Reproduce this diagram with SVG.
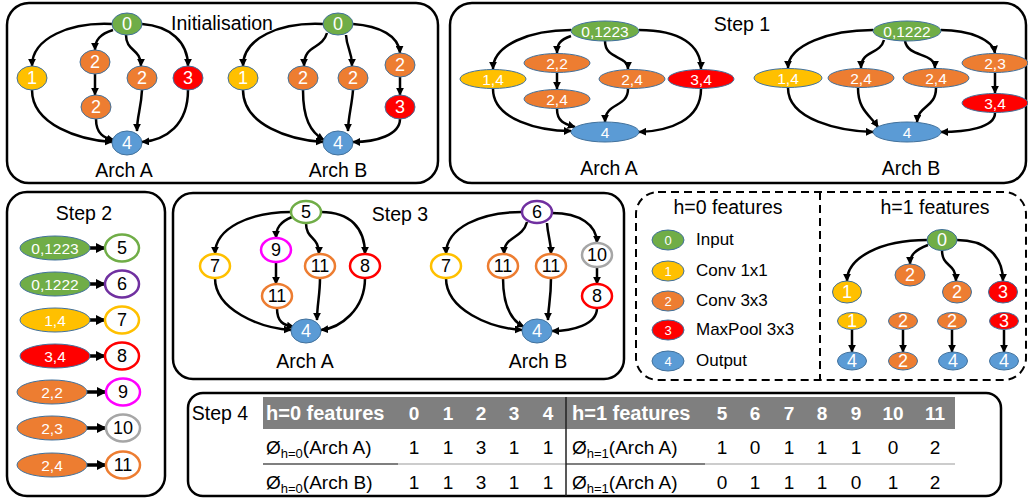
<svg xmlns="http://www.w3.org/2000/svg" width="1028" height="499" viewBox="0 0 1028 499">
<defs>
  <marker id="ah" viewBox="0 0 10 10" refX="9" refY="5" markerWidth="8" markerHeight="8" markerUnits="userSpaceOnUse" orient="auto">
    <path d="M0,0 L10,5 L0,10 z" fill="#000"/>
  </marker>
  <marker id="ahb" viewBox="0 0 10 10" refX="9" refY="5" markerWidth="10" markerHeight="11" markerUnits="userSpaceOnUse" orient="auto">
    <path d="M0,0 L10,5 L0,10 z" fill="#000"/>
  </marker>
  <style>
    .panel{fill:#fff;stroke:#000;stroke-width:2.5}
    .dash{fill:none;stroke:#000;stroke-width:2;stroke-dasharray:8 5}
    .e{fill:none;stroke:#000;stroke-width:2.5;marker-end:url(#ah)}
    .eb{fill:none;stroke:#000;stroke-width:3.5;marker-end:url(#ahb)}
    .g{fill:#70AD47;stroke:#41719C;stroke-width:1}
    .y{fill:#FFC000;stroke:#41719C;stroke-width:1}
    .o{fill:#ED7D31;stroke:#41719C;stroke-width:1}
    .r{fill:#FF0000;stroke:#41719C;stroke-width:1}
    .b{fill:#5B9BD5;stroke:#41719C;stroke-width:1}
    .og{fill:#fff;stroke:#70AD47;stroke-width:2.5}
    .op{fill:#fff;stroke:#7030A0;stroke-width:2.5}
    .oy{fill:#fff;stroke:#FFC000;stroke-width:2.5}
    .or{fill:#fff;stroke:#FF0000;stroke-width:2.5}
    .om{fill:#fff;stroke:#FF00FF;stroke-width:2.5}
    .ox{fill:#fff;stroke:#A6A6A6;stroke-width:2.5}
    .oo{fill:#fff;stroke:#ED7D31;stroke-width:2.5}
    text{font-family:"Liberation Sans",Arial,sans-serif}
    .t{font-size:19.5px;fill:#000;text-anchor:middle}
    .w{font-size:18px;fill:#fff;text-anchor:middle;dominant-baseline:central}
    .ws{font-size:15.5px;fill:#fff;text-anchor:middle;dominant-baseline:central}
    .wl{font-size:13px;fill:#fff;text-anchor:middle;dominant-baseline:central}
    .k{font-size:18px;fill:#000;text-anchor:middle;dominant-baseline:central}
    .lg{font-size:17px;fill:#000}
    .th{font-size:20px;font-weight:bold;fill:#fff}
    .thn{font-size:19px;font-weight:bold;fill:#fff;text-anchor:middle}
    .td{font-size:19px;fill:#000}
    .tdn{font-size:19px;fill:#000;text-anchor:middle}
  </style>
</defs>

<!-- panel frames -->
<g id="frames">
  <rect class="panel" x="7" y="3" width="431" height="180" rx="22"/>
  <rect class="panel" x="450" y="3" width="576" height="180" rx="22"/>
  <rect class="panel" x="7" y="192" width="158" height="304" rx="20"/>
  <rect class="panel" x="173" y="193" width="451" height="186" rx="20"/>
  <rect class="dash" x="636" y="192" width="390" height="188" rx="22"/>
  <line class="dash" x1="820" y1="192" x2="820" y2="380"/>
  <rect class="panel" x="188" y="393" width="813" height="103" rx="15"/>
</g>

<!-- titles -->
<g id="titles">
  <text class="t" x="222" y="30">Initialisation</text>
  <text class="t" x="124" y="177">Arch A</text>
  <text class="t" x="338" y="177">Arch B</text>
  <text class="t" x="742" y="31">Step 1</text>
  <text class="t" x="609" y="175">Arch A</text>
  <text class="t" x="911" y="175">Arch B</text>
  <text class="t" x="84" y="220">Step 2</text>
  <text class="t" x="400" y="221">Step 3</text>
  <text class="t" x="305" y="368">Arch A</text>
  <text class="t" x="538" y="368">Arch B</text>
  <text class="t" x="728" y="214">h=0 features</text>
  <text class="t" x="935" y="214">h=1 features</text>
  <text class="t" x="220" y="420">Step 4</text>
</g>

<!-- connectors -->
<g id="connectors">
  <!-- Initialisation, Arch A -->
  <path class="e" d="M112,24 C70,22 32,38 32,66"/>
  <path class="e" d="M113,30 C100,34 95,40 95,50"/>
  <path class="e" d="M126,35 C126,52 141,48 141,66"/>
  <path class="e" d="M142,24 C170,26 188,42 188,66"/>
  <path class="e" d="M95,74 L95,95"/>
  <path class="e" d="M32,90 C32,125 80,140 112,142"/>
  <path class="e" d="M96,119 C96,134 104,138 114,140"/>
  <path class="e" d="M142,90 C141,110 137,115 137,131"/>
  <path class="e" d="M188,90 C188,125 166,140 142,142"/>
  <!-- Initialisation, Arch B -->
  <path class="e" d="M323,24 C280,22 243,38 243,66"/>
  <path class="e" d="M327,33 C322,50 304,44 304,66"/>
  <path class="e" d="M346,35 C347,50 352,50 352,66"/>
  <path class="e" d="M353,24 C380,26 399,36 400,53"/>
  <path class="e" d="M400,77 L400,95"/>
  <path class="e" d="M243,90 C243,125 290,140 323,142"/>
  <path class="e" d="M303,90 C303,118 310,132 324,140"/>
  <path class="e" d="M353,90 C352,105 348,118 348,131"/>
  <path class="e" d="M400,119 C400,135 376,142 353,142"/>
  <!-- Step 1, Arch A -->
  <path class="e" d="M571,30 C530,30 493,45 493,69"/>
  <path class="e" d="M571,36 C559,40 557,45 557,53"/>
  <path class="e" d="M605,41 C605,60 628,55 628,69"/>
  <path class="e" d="M639,30 C680,30 701,45 701,69"/>
  <path class="e" d="M557,73 L557,89"/>
  <path class="e" d="M493,89 C493,120 540,131 571,131"/>
  <path class="e" d="M557,109 C557,122 565,124 575,127"/>
  <path class="e" d="M628,89 C628,108 605,102 605,122"/>
  <path class="e" d="M701,89 C701,120 670,131 639,132"/>
  <!-- Step 1, Arch B -->
  <path class="e" d="M873,30 C830,30 788,45 788,68"/>
  <path class="e" d="M884,40 C880,55 861,50 861,68"/>
  <path class="e" d="M905,41 C908,58 935,52 935,68"/>
  <path class="e" d="M941,30 C970,30 993,40 995,53"/>
  <path class="e" d="M995,73 L995,93"/>
  <path class="e" d="M788,88 C788,120 840,131 873,132"/>
  <path class="e" d="M858,88 C858,110 870,115 878,127"/>
  <path class="e" d="M936,88 C936,108 918,105 917,122"/>
  <path class="e" d="M995,113 C995,128 965,132 941,132"/>
  <!-- Step 2 relabelling -->
  <path class="eb" d="M90,248 L105,248"/>
  <path class="eb" d="M90,284 L105,284"/>
  <path class="eb" d="M90,320 L105,320"/>
  <path class="eb" d="M90,356 L105,356"/>
  <path class="eb" d="M87,392 L106,392"/>
  <path class="eb" d="M87,428 L106,428"/>
  <path class="eb" d="M87,465 L106,465"/>
  <!-- Step 3, Arch A -->
  <path class="e" d="M291,212 C250,212 215,228 215,254"/>
  <path class="e" d="M292,217 C280,222 276,228 276,238"/>
  <path class="e" d="M306,223 C306,240 319,236 319,254"/>
  <path class="e" d="M321,212 C350,212 365,228 365,254"/>
  <path class="e" d="M276,262 L276,284"/>
  <path class="e" d="M215,278 C215,310 260,328 291,330"/>
  <path class="e" d="M277,308 C277,322 283,325 294,327"/>
  <path class="e" d="M320,278 C320,295 317,305 317,320"/>
  <path class="e" d="M365,278 C365,310 340,328 321,330"/>
  <!-- Step 3, Arch B -->
  <path class="e" d="M522,212 C480,212 446,228 446,254"/>
  <path class="e" d="M527,222 C522,240 504,235 504,254"/>
  <path class="e" d="M547,223 C548,238 551,240 551,254"/>
  <path class="e" d="M552,213 C580,213 597,225 597,243"/>
  <path class="e" d="M597,267 L597,284"/>
  <path class="e" d="M446,278 C446,310 490,328 522,330"/>
  <path class="e" d="M503,278 C503,305 510,320 524,327"/>
  <path class="e" d="M551,278 C551,300 548,308 548,320"/>
  <path class="e" d="M597,308 C597,325 572,331 552,331"/>
  <!-- h=1 feature tree -->
  <path class="e" d="M927,240 C880,240 847,258 847,281"/>
  <path class="e" d="M928,245 C915,250 910,255 910,264"/>
  <path class="e" d="M942,250 C942,268 956,262 956,281"/>
  <path class="e" d="M957,240 C985,240 1003,255 1003,281"/>
  <path class="e" d="M852,330 L852,352"/>
  <path class="e" d="M903,330 L903,352"/>
  <path class="e" d="M952,330 L952,352"/>
  <path class="e" d="M1004,330 L1004,352"/>
</g>

<!-- Initialisation, Arch A -->
<g id="iA0"><ellipse class="g" cx="127" cy="24" rx="15" ry="11"/><text class="w" x="127" y="24">0</text></g>
<g id="iA1"><ellipse class="y" cx="32" cy="78" rx="15" ry="12"/><text class="w" x="32" y="78">1</text></g>
<g id="iA2a"><ellipse class="o" cx="95" cy="62" rx="15" ry="12"/><text class="w" x="95" y="62">2</text></g>
<g id="iA2b"><ellipse class="o" cx="96" cy="107" rx="15" ry="12"/><text class="w" x="96" y="107">2</text></g>
<g id="iA2c"><ellipse class="o" cx="142" cy="78" rx="15" ry="12"/><text class="w" x="142" y="78">2</text></g>
<g id="iA3"><ellipse class="r" cx="188" cy="78" rx="15" ry="12"/><text class="w" x="188" y="78">3</text></g>
<g id="iA4"><ellipse class="b" cx="127" cy="143" rx="15" ry="12"/><text class="w" x="127" y="143">4</text></g>

<!-- Initialisation, Arch B -->
<g id="iB0"><ellipse class="g" cx="338" cy="24" rx="15" ry="11"/><text class="w" x="338" y="24">0</text></g>
<g id="iB1"><ellipse class="y" cx="243" cy="78" rx="15" ry="12"/><text class="w" x="243" y="78">1</text></g>
<g id="iB2a"><ellipse class="o" cx="303" cy="78" rx="15" ry="12"/><text class="w" x="303" y="78">2</text></g>
<g id="iB2b"><ellipse class="o" cx="353" cy="78" rx="15" ry="12"/><text class="w" x="353" y="78">2</text></g>
<g id="iB2c"><ellipse class="o" cx="400" cy="65" rx="15" ry="12"/><text class="w" x="400" y="65">2</text></g>
<g id="iB3"><ellipse class="r" cx="400" cy="107" rx="15" ry="12"/><text class="w" x="400" y="107">3</text></g>
<g id="iB4"><ellipse class="b" cx="338" cy="143" rx="15" ry="12"/><text class="w" x="338" y="143">4</text></g>

<!-- Step 1, Arch A -->
<g id="s1A0"><ellipse class="g" cx="605" cy="31" rx="34" ry="10"/><text class="ws" x="605" y="31">0,1223</text></g>
<g id="s1A14"><ellipse class="y" cx="493" cy="79" rx="33" ry="9.5"/><text class="ws" x="493" y="79">1,4</text></g>
<g id="s1A22"><ellipse class="o" cx="557" cy="63" rx="33" ry="9.5"/><text class="ws" x="557" y="63">2,2</text></g>
<g id="s1A24a"><ellipse class="o" cx="557" cy="99" rx="33" ry="9.5"/><text class="ws" x="557" y="99">2,4</text></g>
<g id="s1A24b"><ellipse class="o" cx="632" cy="79" rx="33" ry="9.5"/><text class="ws" x="632" y="79">2,4</text></g>
<g id="s1A34"><ellipse class="r" cx="701" cy="79" rx="33" ry="9.5"/><text class="ws" x="701" y="79">3,4</text></g>
<g id="s1A4"><ellipse class="b" cx="605" cy="132" rx="34" ry="10"/><text class="ws" x="605" y="132">4</text></g>

<!-- Step 1, Arch B -->
<g id="s1B0"><ellipse class="g" cx="907" cy="31" rx="34" ry="10"/><text class="ws" x="907" y="31">0,1222</text></g>
<g id="s1B14"><ellipse class="y" cx="788" cy="78" rx="34" ry="9.5"/><text class="ws" x="788" y="78">1,4</text></g>
<g id="s1B24a"><ellipse class="o" cx="861" cy="78" rx="33" ry="9.5"/><text class="ws" x="861" y="78">2,4</text></g>
<g id="s1B24b"><ellipse class="o" cx="936" cy="78" rx="33" ry="9.5"/><text class="ws" x="936" y="78">2,4</text></g>
<g id="s1B23"><ellipse class="o" cx="995" cy="63" rx="33" ry="9.5"/><text class="ws" x="995" y="63">2,3</text></g>
<g id="s1B34"><ellipse class="r" cx="995" cy="103" rx="33" ry="9.5"/><text class="ws" x="995" y="103">3,4</text></g>
<g id="s1B4"><ellipse class="b" cx="907" cy="132" rx="34" ry="10"/><text class="ws" x="907" y="132">4</text></g>

<!-- Step 2: compressed labels -->
<g id="s2r1"><ellipse class="g" cx="55" cy="248" rx="35" ry="12"/><text class="ws" x="55" y="248">0,1223</text><ellipse class="og" cx="122" cy="248" rx="17" ry="13.5"/><text class="k" x="122" y="248">5</text></g>
<g id="s2r2"><ellipse class="g" cx="55" cy="284" rx="35" ry="12"/><text class="ws" x="55" y="284">0,1222</text><ellipse class="op" cx="122" cy="284" rx="17" ry="13.5"/><text class="k" x="122" y="284">6</text></g>
<g id="s2r3"><ellipse class="y" cx="55" cy="320" rx="35" ry="12"/><text class="ws" x="55" y="320">1,4</text><ellipse class="oy" cx="122" cy="320" rx="17" ry="13.5"/><text class="k" x="122" y="320">7</text></g>
<g id="s2r4"><ellipse class="r" cx="55" cy="356" rx="35" ry="12"/><text class="ws" x="55" y="356">3,4</text><ellipse class="or" cx="122" cy="356" rx="17" ry="13.5"/><text class="k" x="122" y="356">8</text></g>
<g id="s2r5"><ellipse class="o" cx="52" cy="392" rx="35" ry="12"/><text class="ws" x="52" y="392">2,2</text><ellipse class="om" cx="123" cy="392" rx="17" ry="13.5"/><text class="k" x="123" y="392">9</text></g>
<g id="s2r6"><ellipse class="o" cx="52" cy="428" rx="35" ry="12"/><text class="ws" x="52" y="428">2,3</text><ellipse class="ox" cx="123" cy="428" rx="17" ry="13.5"/><text class="k" x="123" y="428">10</text></g>
<g id="s2r7"><ellipse class="o" cx="52" cy="465" rx="35" ry="12"/><text class="ws" x="52" y="465">2,4</text><ellipse class="oo" cx="123" cy="465" rx="17" ry="13.5"/><text class="k" x="123" y="465">11</text></g>

<!-- Step 3, Arch A -->
<g id="s3A5"><ellipse class="og" cx="306" cy="212" rx="15" ry="11"/><text class="k" x="306" y="212">5</text></g>
<g id="s3A7"><ellipse class="oy" cx="215" cy="266" rx="15" ry="12"/><text class="k" x="215" y="266">7</text></g>
<g id="s3A9"><ellipse class="om" cx="276" cy="250" rx="15" ry="12"/><text class="k" x="276" y="250">9</text></g>
<g id="s3A11a"><ellipse class="oo" cx="277" cy="296" rx="15" ry="12"/><text class="k" x="277" y="296">11</text></g>
<g id="s3A11b"><ellipse class="oo" cx="320" cy="266" rx="15" ry="12"/><text class="k" x="320" y="266">11</text></g>
<g id="s3A8"><ellipse class="or" cx="365" cy="266" rx="15" ry="12"/><text class="k" x="365" y="266">8</text></g>
<g id="s3A4"><ellipse class="b" cx="306" cy="331" rx="15" ry="12"/><text class="w" x="306" y="331">4</text></g>

<!-- Step 3, Arch B -->
<g id="s3B6"><ellipse class="op" cx="537" cy="212" rx="15" ry="11"/><text class="k" x="537" y="212">6</text></g>
<g id="s3B7"><ellipse class="oy" cx="446" cy="266" rx="15" ry="12"/><text class="k" x="446" y="266">7</text></g>
<g id="s3B11a"><ellipse class="oo" cx="503" cy="266" rx="15" ry="12"/><text class="k" x="503" y="266">11</text></g>
<g id="s3B11b"><ellipse class="oo" cx="551" cy="266" rx="15" ry="12"/><text class="k" x="551" y="266">11</text></g>
<g id="s3B10"><ellipse class="ox" cx="597" cy="255" rx="15" ry="12"/><text class="k" x="597" y="255">10</text></g>
<g id="s3B8"><ellipse class="or" cx="597" cy="296" rx="15" ry="12"/><text class="k" x="597" y="296">8</text></g>
<g id="s3B4"><ellipse class="b" cx="537" cy="331" rx="15" ry="12"/><text class="w" x="537" y="331">4</text></g>

<!-- h=0 feature legend -->
<g id="lgInput"><ellipse class="g" cx="668" cy="240" rx="16" ry="10"/><text class="wl" x="668" y="240">0</text><text class="lg" x="696" y="245">Input</text></g>
<g id="lgConv1"><ellipse class="y" cx="668" cy="271" rx="16" ry="10"/><text class="wl" x="668" y="271">1</text><text class="lg" x="696" y="276">Conv 1x1</text></g>
<g id="lgConv3"><ellipse class="o" cx="668" cy="301" rx="16" ry="10"/><text class="wl" x="668" y="301">2</text><text class="lg" x="696" y="306">Conv 3x3</text></g>
<g id="lgPool"><ellipse class="r" cx="668" cy="330" rx="16" ry="10"/><text class="wl" x="668" y="330">3</text><text class="lg" x="696" y="335">MaxPool 3x3</text></g>
<g id="lgOutput"><ellipse class="b" cx="668" cy="361" rx="16" ry="10"/><text class="wl" x="668" y="361">4</text><text class="lg" x="696" y="366">Output</text></g>

<!-- h=1 feature tree -->
<g id="t0"><ellipse class="g" cx="942" cy="240" rx="15" ry="10.5"/><text class="w" x="942" y="240">0</text></g>
<g id="t1"><ellipse class="y" cx="847" cy="292" rx="14.5" ry="11"/><text class="w" x="847" y="292">1</text></g>
<g id="t2u"><ellipse class="o" cx="910" cy="275" rx="15" ry="11"/><text class="w" x="910" y="275">2</text></g>
<g id="t2"><ellipse class="o" cx="957" cy="292" rx="14.5" ry="11"/><text class="w" x="957" y="292">2</text></g>
<g id="t3"><ellipse class="r" cx="1003" cy="292" rx="14.5" ry="11"/><text class="w" x="1003" y="292">3</text></g>
<g id="p1a"><ellipse class="y" cx="852" cy="321" rx="14.5" ry="8.5"/><text class="w" x="852" y="321">1</text></g>
<g id="p2a"><ellipse class="o" cx="903" cy="321" rx="14.5" ry="8.5"/><text class="w" x="903" y="321">2</text></g>
<g id="p3a"><ellipse class="o" cx="952" cy="321" rx="14.5" ry="8.5"/><text class="w" x="952" y="321">2</text></g>
<g id="p4a"><ellipse class="r" cx="1004" cy="321" rx="14.5" ry="8.5"/><text class="w" x="1004" y="321">3</text></g>
<g id="p1b"><ellipse class="b" cx="852" cy="361" rx="14.5" ry="9"/><text class="w" x="852" y="361">4</text></g>
<g id="p2b"><ellipse class="o" cx="903" cy="361" rx="14.5" ry="9"/><text class="w" x="903" y="361">2</text></g>
<g id="p3b"><ellipse class="b" cx="953" cy="361" rx="14.5" ry="9"/><text class="w" x="953" y="361">4</text></g>
<g id="p4b"><ellipse class="b" cx="1004" cy="361" rx="14.5" ry="9"/><text class="w" x="1004" y="361">4</text></g>

<!-- Step 4 feature table -->
<g id="table">
  <rect x="263" y="397" width="692" height="32" fill="#7F7F7F"/>
  <line x1="263" y1="464" x2="398" y2="464" stroke="#000" stroke-width="1.2"/>
  <line x1="398" y1="464" x2="566" y2="464" stroke="#999" stroke-width="1"/>
  <line x1="566" y1="464" x2="705" y2="464" stroke="#000" stroke-width="1.2"/>
  <line x1="705" y1="464" x2="955" y2="464" stroke="#999" stroke-width="1"/>
  <line x1="566" y1="397" x2="566" y2="496" stroke="#222" stroke-width="1.5"/>
  <text class="th" x="266" y="420">h=0 features</text>
  <text class="thn" x="414" y="420">0</text><text class="thn" x="448" y="420">1</text><text class="thn" x="481" y="420">2</text><text class="thn" x="514" y="420">3</text><text class="thn" x="548" y="420">4</text>
  <text class="th" x="572" y="420">h=1 features</text>
  <text class="thn" x="722" y="420">5</text><text class="thn" x="755" y="420">6</text><text class="thn" x="789" y="420">7</text><text class="thn" x="822" y="420">8</text><text class="thn" x="856" y="420">9</text><text class="thn" x="893" y="420">10</text><text class="thn" x="935" y="420">11</text>
  <text class="td" x="266" y="454">Ø<tspan font-size="13" dy="4">h=0</tspan><tspan dy="-4">(Arch A)</tspan></text>
  <text class="tdn" x="414" y="454">1</text><text class="tdn" x="448" y="454">1</text><text class="tdn" x="481" y="454">3</text><text class="tdn" x="514" y="454">1</text><text class="tdn" x="548" y="454">1</text>
  <text class="td" x="572" y="454">Ø<tspan font-size="13" dy="4">h=1</tspan><tspan dy="-4">(Arch A)</tspan></text>
  <text class="tdn" x="722" y="454">1</text><text class="tdn" x="755" y="454">0</text><text class="tdn" x="789" y="454">1</text><text class="tdn" x="822" y="454">1</text><text class="tdn" x="856" y="454">1</text><text class="tdn" x="893" y="454">0</text><text class="tdn" x="935" y="454">2</text>
  <text class="td" x="266" y="489">Ø<tspan font-size="13" dy="4">h=0</tspan><tspan dy="-4">(Arch B)</tspan></text>
  <text class="tdn" x="414" y="489">1</text><text class="tdn" x="448" y="489">1</text><text class="tdn" x="481" y="489">3</text><text class="tdn" x="514" y="489">1</text><text class="tdn" x="548" y="489">1</text>
  <text class="td" x="572" y="489">Ø<tspan font-size="13" dy="4">h=1</tspan><tspan dy="-4">(Arch A)</tspan></text>
  <text class="tdn" x="722" y="489">0</text><text class="tdn" x="755" y="489">1</text><text class="tdn" x="789" y="489">1</text><text class="tdn" x="822" y="489">1</text><text class="tdn" x="856" y="489">0</text><text class="tdn" x="893" y="489">1</text><text class="tdn" x="935" y="489">2</text>
</g>
</svg>
